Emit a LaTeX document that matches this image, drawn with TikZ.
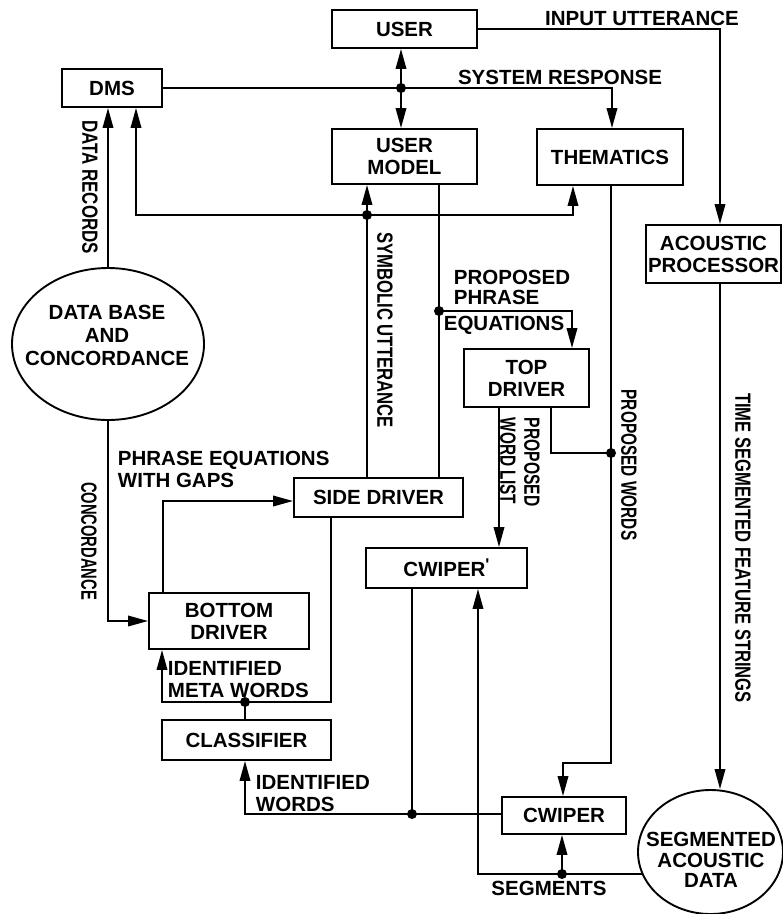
\documentclass[tikz,border=0pt]{standalone}
\usepackage{fontspec}
\setmainfont{Liberation Sans}
\usetikzlibrary{arrows.meta,shapes.geometric}
\newcommand\mylab{\fontsize{20.5}{22}\selectfont\bfseries}
\begin{document}
\begin{tikzpicture}[x=1pt,y=-1pt, line width=1.9pt,
  box/.style={draw, rectangle, inner sep=0pt, align=center, font=\mylab},
  arr/.style={-{Triangle[length=20pt,width=10.5pt]}},
  dot/.style={circle, fill, inner sep=0pt, minimum size=10pt},
  lbl/.style={inner sep=0pt, font=\mylab, text depth=0pt},
  rlbl/.style={inner sep=0pt, font=\fontsize{22}{24}\selectfont\bfseries, rotate=-90, text depth=0pt}]
\useasboundingbox (0,0) rectangle (783,914);

% boxes
\node[box, minimum width=145pt, minimum height=38pt] (USER) at (404.5,29) {USER};
\node[box, minimum width=100pt, minimum height=38pt] (DMS) at (112,88) {DMS};
\node[box, minimum width=145pt, minimum height=55pt] (UM) at (404.5,156.5) {USER\\MODEL};
\node[box, minimum width=146pt, minimum height=56pt] (TH) at (610,157) {THEMATICS};
\node[box, minimum width=135pt, minimum height=58pt] (AP) at (713.5,254) {ACOUSTIC\\PROCESSOR};
\node[box, minimum width=125pt, minimum height=58pt] (TD) at (526.5,378) {TOP\\DRIVER};
\node[box, minimum width=169pt, minimum height=39pt] (SD) at (378.5,497.5) {SIDE DRIVER};
\node[box, minimum width=161pt, minimum height=40pt] (CW1) at (446.5,568) {CWIPER\raisebox{6pt}{\fontsize{17}{17}\selectfont\textquotesingle}};
\node[box, minimum width=160pt, minimum height=56pt] (BD) at (229,621) {BOTTOM\\DRIVER};
\node[box, minimum width=169pt, minimum height=40pt] (CL) at (246.5,740) {CLASSIFIER};
\node[box, minimum width=124pt, minimum height=37pt] (CW) at (564,815.5) {CWIPER};
\node[draw, ellipse, inner sep=0pt, minimum width=192pt, minimum height=152pt] (DB) at (108,344) {};
\node[font=\fontsize{20.5}{23}\selectfont\bfseries, align=center, inner sep=0pt] (DBt) at (107,335) {DATA BASE\\AND\\CONCORDANCE};
\node[draw, ellipse, inner sep=0pt, minimum width=145pt, minimum height=124pt] (SEG) at (710.5,852) {};
\node[font=\fontsize{20.5}{20.5}\selectfont\bfseries, align=center, inner sep=0pt] (SEGt) at (711,860) {SEGMENTED\\ACOUSTIC\\DATA};

% junctions and bend positions
\coordinate (jU) at (401,88);
\coordinate (jS) at (367,215);
\coordinate (jP) at (439,311);
\coordinate (jW) at (611,453);
\coordinate (bW) at (611,763);
\coordinate (jG) at (562,874);
\coordinate (jI) at (412,814);
\coordinate (jM) at (245,702);
\coordinate (xIU) at (720,0);
\coordinate (xTHt) at (612,0);
\coordinate (xDMS) at (136,0);
\coordinate (xTHb) at (573,0);
\coordinate (xTD) at (572,0);
\coordinate (xWL) at (499,0);
\coordinate (xTDb) at (551,0);
\coordinate (xCWt) at (563,0);
\coordinate (xSeg) at (478,0);
\coordinate (xSDb) at (331,0);
\coordinate (xBDb) at (162,0);
\coordinate (xBDt) at (163,0);
\coordinate (yBS) at (0,501);

% connectors
\draw[arr] (USER.east) -| (xIU |- AP.north);
\draw[arr] (jU) -- (jU |- USER.south);
\draw[arr] (jU) -- (jU |- UM.north);
\draw[arr] (DMS.east) -| (xTHt |- TH.north);
\draw[arr] (jS) -| (xDMS |- DMS.south);
\draw[arr] (jS) -| (xTHb |- TH.south);
\draw[arr] (jS) -- (jS |- UM.south);
\draw (jS |- SD.north) -- (jS);
\draw[arr] (DB.north) -- (DB.north |- DMS.south);
\draw (jP |- UM.south) -- (jP |- SD.north);
\draw[arr] (jP) -| (xTD |- TD.north);
\draw[arr] (xWL |- TD.south) -- (xWL |- CW1.north);
\draw (xTDb |- TD.south) |- (jW);
\draw[arr] (jW |- TH.south) -- (bW) -| (xCWt |- CW.north);
\draw[arr] (xIU |- AP.south) -- (xIU |- SEG.north);
\draw[arr] (SEG.198) -| (xSeg |- CW1.south);
\draw[arr] (jG) -- (jG |- CW.south);
\draw (jI |- CW1.south) -- (jI);
\draw[arr] (CW.west |- jI) -| (jM |- CL.south);
\draw (jM |- CL.north) -- (jM);
\draw[arr] (xSDb |- SD.south) |- (jM) -| (xBDb |- BD.south);
\draw[arr] (xBDt |- BD.north) |- (SD.west |- yBS);
\draw[arr] (DB.south) |- (BD.west);

% dots
\foreach \p in {jU,jS,jP,jW,jG,jI,jM} \node[dot] at (\p) {};

% labels
\node[lbl] (tIU) at (642,18) {INPUT UTTERANCE};
\node[lbl] (tSR) at (560,77) {SYSTEM RESPONSE};
\node[rlbl] (tDR) at (90,187) {\scalebox{0.77}[1]{DATA RECORDS}};
\node[rlbl] (tSU) at (385,330) {\scalebox{0.76}[1]{SYMBOLIC UTTERANCE}};
\node[lbl, anchor=west] (tPP1) at (453,277) {PROPOSED};
\node[lbl, anchor=west] (tPP2) at (453,297) {PHRASE};
\node[lbl] (tPP3) at (504,323) {EQUATIONS};
\node[rlbl, anchor=west] (tWL1) at (532,417) {\scalebox{0.71}[1]{PROPOSED}};
\node[rlbl, anchor=west] (tWL2) at (508,417) {\scalebox{0.70}[1]{WORD LIST}};
\node[rlbl] (tPW) at (629,465) {\scalebox{0.70}[1]{PROPOSED WORDS}};
\node[rlbl] (tTS) at (743,548) {\scalebox{0.755}[1]{TIME SEGMENTED FEATURE STRINGS}};
\node[lbl, anchor=west] (tPE1) at (117,458) {PHRASE EQUATIONS};
\node[lbl, anchor=west] (tPE2) at (117,480) {WITH GAPS};
\node[rlbl] (tCO) at (89,541) {\scalebox{0.67}[1]{CONCORDANCE}};
\node[lbl, anchor=west] (tIM1) at (167,668) {IDENTIFIED};
\node[lbl, anchor=west] (tIM2) at (167,690) {META WORDS};
\node[lbl, anchor=west] (tIW1) at (255,782) {IDENTIFIED};
\node[lbl, anchor=west] (tIW2) at (255,804) {WORDS};
\node[lbl] (tSG) at (549,888) {SEGMENTS};
\end{tikzpicture}
\end{document}
